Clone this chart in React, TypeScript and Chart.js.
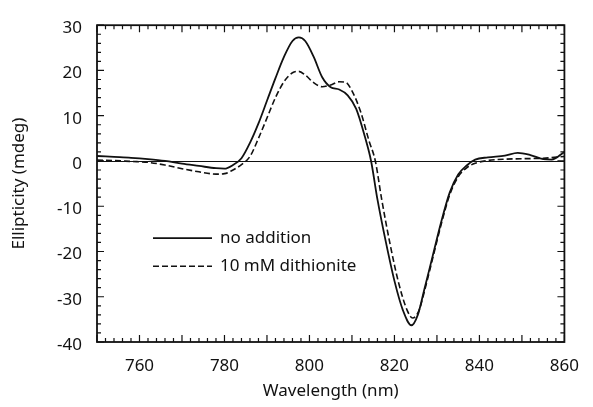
import React, { useEffect, useRef } from "react";
import { Chart, registerables } from "chart.js";

Chart.register(...registerables);

// ---- data ----
const wavelengthsSolid = [
  750, 754, 758, 762, 766, 770, 774, 778, 780, 782, 784, 786, 788, 790, 792, 794, 796, 797.5,
  799, 801, 803, 805, 807, 809, 811, 813, 814.5, 816, 818, 820, 822, 824, 825.5, 827, 829, 831,
  833, 835, 837, 839, 842, 846, 849, 852, 855, 857, 860,
];
const noAddition = [
  1.1, 0.9, 0.7, 0.4, 0.0, -0.6, -1.1, -1.6, -1.7, -0.9, 0.6, 4.0, 8.3, 13.3, 18.3, 23, 26.5, 27.3,
  26.5, 23, 18.5, 16.3, 15.8, 14.5, 11.5, 5.5, 0, -8.5, -18, -26.5, -33, -36.3, -34, -28.5, -21, -13.5,
  -7, -3, -1, 0.3, 0.8, 1.2, 1.8, 1.3, 0.4, 0.3, 2.0,
];
const wavelengthsDashed = [
  750, 754, 758, 762, 766, 770, 774, 778, 780, 782, 784, 786, 788, 790, 792, 794, 796, 797.5,
  799, 801, 803, 805, 807, 808.5, 810, 812, 814, 815.5, 817, 819, 821, 823, 824.3, 825.8, 827, 829,
  831, 833, 835, 837, 839, 842, 846, 850, 855, 860,
];
const dithionite = [
  0.2, 0.1, -0.1, -0.3, -0.9, -1.7, -2.4, -2.9, -2.8, -2.0, -0.8, 1.0, 5, 9.5, 14, 17.5, 19.5, 19.8,
  19, 17.3, 16.4, 16.8, 17.5, 17.4, 15.5, 11, 4.5, 0, -8.5, -18.5, -27, -33, -34.7, -33, -29, -21.5,
  -14, -7.5, -3.5, -1.5, -0.5, 0.1, 0.4, 0.5, 0.6, 1.0,
];
const seriesLabels = ["no addition", "10 mM dithionite"];
const xTickValues = [760, 780, 800, 820, 840, 860];
const yTickValues = [-40, -30, -20, -10, 0, 10, 20, 30];
const xRange = [750, 860];
const yRange = [-40, 30];
const minorStep = 2;
const majorStep = 10;

const INK = "#111111";
const FONT = "'Noto Sans', sans-serif";

const framePlugin = {
  id: "frameTicksLegend",
  afterDatasetsDraw(chart: any) {
    const { ctx, chartArea: a, scales } = chart;
    const x = scales.x;
    const y = scales.y;
    ctx.save();
    ctx.strokeStyle = INK;
    // zero reference line
    ctx.lineWidth = 1;
    const y0 = Math.round(y.getPixelForValue(0)) + 0.5;
    ctx.beginPath();
    ctx.moveTo(a.left, y0);
    ctx.lineTo(a.right, y0);
    ctx.stroke();
    // frame
    ctx.lineWidth = 1.8;
    ctx.strokeRect(a.left, a.top, a.right - a.left, a.bottom - a.top);
    // inward ticks on all sides
    ctx.lineWidth = 1.2;
    ctx.beginPath();
    for (let v = x.min; v <= x.max + 1e-6; v += minorStep) {
      const px = x.getPixelForValue(v);
      const len = Math.abs(v % majorStep) < 1e-6 ? 7 : 4;
      ctx.moveTo(px, a.bottom);
      ctx.lineTo(px, a.bottom - len);
      ctx.moveTo(px, a.top);
      ctx.lineTo(px, a.top + len);
    }
    for (let v = y.min; v <= y.max + 1e-6; v += minorStep) {
      const py = y.getPixelForValue(v);
      const len = Math.abs(v % majorStep) < 1e-6 ? 7 : 4;
      ctx.moveTo(a.left, py);
      ctx.lineTo(a.left + len, py);
      ctx.moveTo(a.right, py);
      ctx.lineTo(a.right - len, py);
    }
    ctx.stroke();
    // legend
    ctx.font = `17px ${FONT}`;
    ctx.fillStyle = INK;
    ctx.textBaseline = "middle";
    chart.data.datasets.forEach((ds: any, i: number) => {
      const ly = a.top + 213 + i * 28;
      ctx.save();
      ctx.lineWidth = ds.borderWidth;
      ctx.setLineDash(ds.borderDash || []);
      ctx.beginPath();
      ctx.moveTo(a.left + 56, ly);
      ctx.lineTo(a.left + 115, ly);
      ctx.stroke();
      ctx.restore();
      ctx.fillText(ds.label, a.left + 123, ly);
    });
    ctx.restore();
  },
};

export default function App() {
  const ref = useRef<HTMLCanvasElement | null>(null);

  useEffect(() => {
    if (!ref.current) return;
    const chart = new Chart(ref.current, {
      type: "line",
      data: {
        datasets: [
          {
            label: seriesLabels[0],
            data: wavelengthsSolid.map((w, i) => ({ x: w, y: noAddition[i] })),
            borderColor: INK,
            borderWidth: 1.8,
            pointRadius: 0,
            cubicInterpolationMode: "monotone",
            fill: false,
          },
          {
            label: seriesLabels[1],
            data: wavelengthsDashed.map((w, i) => ({ x: w, y: dithionite[i] })),
            borderColor: INK,
            borderWidth: 1.6,
            borderDash: [6, 3],
            pointRadius: 0,
            cubicInterpolationMode: "monotone",
            fill: false,
          },
        ],
      },
      options: {
        responsive: false,
        animation: false,
        layout: { padding: { top: 18, right: 22, left: 0, bottom: 0 } },
        plugins: { legend: { display: false }, tooltip: { enabled: false } },
        scales: {
          x: {
            type: "linear",
            min: xRange[0],
            max: xRange[1],
            grid: { display: false, drawTicks: false },
            border: { display: false },
            afterBuildTicks: (s: any) => {
              s.ticks = xTickValues.map((v) => ({ value: v }));
            },
            afterFit: (s: any) => {
              s.height = 65;
            },
            ticks: { color: INK, font: { family: FONT, size: 17 }, padding: 14, maxRotation: 0 },
            title: {
              display: true,
              text: "Wavelength (nm)",
              color: INK,
              font: { family: FONT, size: 17 },
              padding: { top: 0, bottom: 6 },
            },
          },
          y: {
            type: "linear",
            min: yRange[0],
            max: yRange[1],
            grid: { display: false, drawTicks: false },
            border: { display: false },
            afterBuildTicks: (s: any) => {
              s.ticks = yTickValues.map((v) => ({ value: v }));
            },
            afterFit: (s: any) => {
              s.width = 97;
            },
            ticks: { color: INK, font: { family: FONT, size: 17 }, padding: 15, labelOffset: 3 },
            title: {
              display: true,
              text: "Ellipticity (mdeg)",
              color: INK,
              font: { family: FONT, size: 17 },
              padding: { top: 9, bottom: 0 },
            },
          },
        },
      },
      plugins: [framePlugin],
    } as any);
    return () => chart.destroy();
  }, []);

  return (
    <div style={{ position: "fixed", left: 0, top: 0, width: 593, height: 407, background: "#fff" }}>
      <canvas ref={ref} width={593} height={407} />
    </div>
  );
}
